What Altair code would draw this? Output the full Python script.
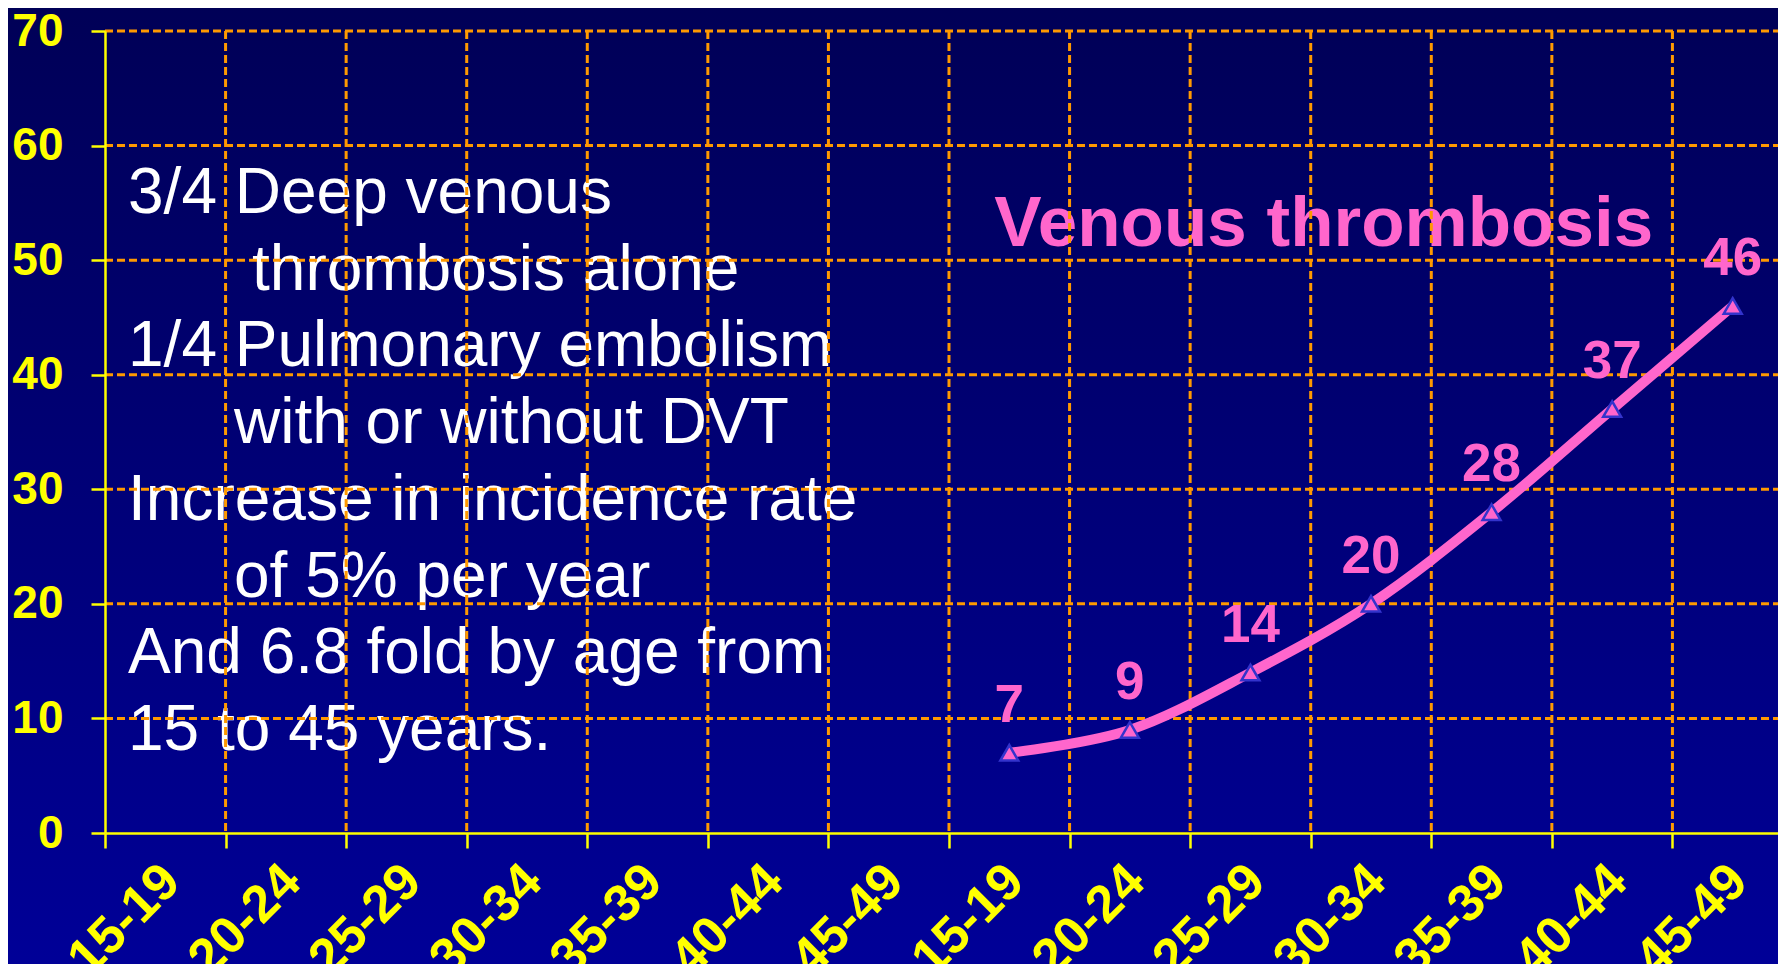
import altair as alt
import pandas as pd

# ---------------- data ----------------
age_groups = ["15-19", "20-24", "25-29", "30-34", "35-39", "40-44", "45-49"]
panel_groups = age_groups + age_groups          # the axis repeats the age groups twice
vt_rates = [7, 9, 14, 20, 28, 37, 46]           # venous thrombosis, second set of groups
y_ticks = [0, 10, 20, 30, 40, 50, 60, 70]
series_title = ["Venous thrombosis"]
note_lines = [
    "3/4 Deep venous",
    "thrombosis alone",
    "1/4 Pulmonary embolism",
    "with or without DVT",
    "Increase in incidence rate",
    "of 5% per year",
    "And 6.8 fold by age from",
    "15 to 45 years.",
]
note_levels = [0, 2, 0, 1, 0, 1, 0, 0]          # 0 = flush, 1/2 = continuation lines

# unique keys so the repeated labels stay separate categories
keys = [f"{i:02d}|{g}" for i, g in enumerate(panel_groups)]

line_df = pd.DataFrame({"key": keys[7:], "v": vt_rates})
hgrid_df = pd.DataFrame({"v": y_ticks[1:]})
vgrid_df = pd.DataFrame({"key": keys[1:]})
note_top, note_step = 54.11, 6.695
note_df = pd.DataFrame({
    "key": [keys[0]] * len(note_lines),
    "v": [note_top - i * note_step for i in range(len(note_lines))],
    "t": note_lines,
    "lvl": note_levels,
})
title_df = pd.DataFrame({"key": [keys[10]], "v": [51.23], "t": series_title})
bg_df = pd.DataFrame({"bg": [0]})

# ---------------- style ----------------
W, H = 1688, 802
FONT = "Liberation Sans, Arial, sans-serif"
YELLOW = "#FFFF00"
ORANGE = "#FF9900"
PINK = "#FF66CC"

x_scale = alt.Scale(type="band", domain=keys, paddingInner=0, paddingOuter=0)
y_scale = alt.Scale(domain=[0, 70], nice=False, zero=True)

x_axis = alt.Axis(
    title=None, grid=False, zindex=1,
    labelExpr="split(datum.value, '|')[1]",
    labelAngle=-45, labelAlign="right", labelBaseline="top",
    labelPadding=7, labelOffset=-12, labelOverlap=False,
    labelFont=FONT, labelFontSize=52, labelFontWeight="bold", labelColor=YELLOW,
    tickBand="extent", tickSize=15, tickWidth=2.5, tickColor=YELLOW,
    domainColor=YELLOW, domainWidth=2.5,
)
y_axis = alt.Axis(
    title=None, grid=False, zindex=1, values=y_ticks,
    labelPadding=28, labelOverlap=False,
    labelFont=FONT, labelFontSize=46, labelFontWeight="bold", labelColor=YELLOW,
    tickSize=14, tickWidth=2.5, tickColor=YELLOW,
    domainColor=YELLOW, domainWidth=2.5,
)


def X(band=None):
    if band is None:
        return alt.X("key:N", scale=x_scale, axis=x_axis, sort=keys)
    return alt.X("key:N", scale=x_scale, axis=x_axis, sort=keys, bandPosition=band)


def Y():
    return alt.Y("v:Q", scale=y_scale, axis=y_axis)


gradient = alt.LinearGradient(
    gradient="linear", x1=0, y1=0, x2=0, y2=1,
    stops=[alt.GradientStop(color="#000056", offset=0),
           alt.GradientStop(color="#000098", offset=1)],
)

bg = alt.Chart(bg_df).mark_rect(color=gradient).encode(
    x=alt.value(-110), x2=alt.value(W + 30),
    y=alt.value(-31), y2=alt.value(943),
)

indent_dx = {0: 23, 1: 129, 2: 147}
note_layers = [
    alt.Chart(note_df).transform_filter(alt.datum.lvl == lvl).mark_text(
        font=FONT, fontSize=64, color="white", align="left",
        baseline="alphabetic", dx=dx,
    ).encode(x=X(0), y=Y(), text="t:N")
    for lvl, dx in indent_dx.items()
]

title = alt.Chart(title_df).mark_text(
    font=FONT, fontSize=71, fontWeight="bold", color=PINK, align="center",
    baseline="alphabetic", dx=13,
).encode(x=X(0), y=Y(), text="t:N")

hgrid = alt.Chart(hgrid_df).mark_rule(
    color=ORANGE, strokeWidth=3, strokeDash=[8, 4],
).encode(y=Y())

vgrid = alt.Chart(vgrid_df).mark_rule(
    color=ORANGE, strokeWidth=3, strokeDash=[8, 4],
).encode(x=X(0))

line = alt.Chart(line_df).mark_line(
    color=PINK, strokeWidth=10, interpolate="cardinal",
).encode(x=X(), y=Y())

points = alt.Chart(line_df).mark_point(
    shape="triangle-up", size=320, filled=True, fill=PINK, stroke="#3333CC",
    strokeWidth=2.5, opacity=1,
).encode(x=X(), y=Y())

labels = alt.Chart(line_df).mark_text(
    font=FONT, fontSize=53, fontWeight="bold", color=PINK, align="center",
    baseline="alphabetic", dy=-31,
).encode(x=X(), y=Y(), text="v:Q")

chart = alt.layer(
    bg, *note_layers, title, hgrid, vgrid, line, points, labels
).properties(
    width=W, height=H,
    autosize=alt.AutoSizeParams(type="none"),
    padding={"left": 97, "top": 23, "right": -15, "bottom": 131},
).configure(
    background="#000056",
).configure_view(strokeWidth=0)

chart.save("out.html", embed_options={"renderer": "svg", "actions": False})
